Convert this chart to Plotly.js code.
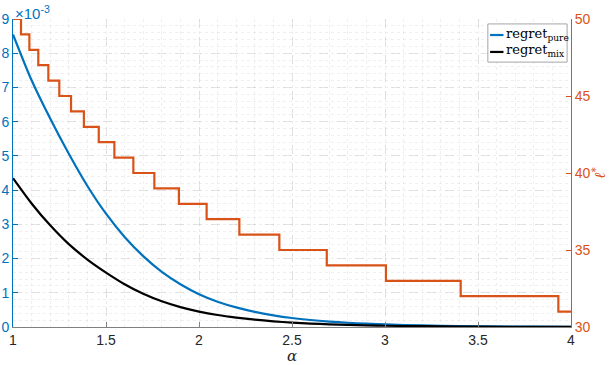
<!DOCTYPE html>
<html><head><meta charset="utf-8">
<script src="https://cdn.plot.ly/plotly-3.0.1.min.js"></script>
<style>html,body{margin:0;padding:0;background:#fff}#chart{width:609px;height:365px}</style>
</head><body><div id="chart"></div>
<script>
// alpha sample points
const alpha = [1.0,1.1,1.2,1.3,1.4,1.5,1.6,1.7,1.8,1.9,2.0,2.1,2.2,2.3,2.4,2.5,2.6,2.7,2.8,2.9,3.0,3.2,3.4,3.6,3.8,4.0];
// regret values in units of 1e-3
const regretPure = [8.55,7.21,6.09,5.06,4.12,3.31,2.63,2.07,1.61,1.25,0.96,0.74,0.572,0.441,0.340,0.262,0.204,0.159,0.124,0.096,0.075,0.046,0.028,0.017,0.010,0.006];
const regretMix  = [4.35,3.61,2.97,2.42,1.97,1.59,1.25,0.97,0.75,0.58,0.45,0.35,0.274,0.213,0.166,0.129,0.101,0.079,0.061,0.048,0.037,0.023,0.014,0.008,0.005,0.003];
// step function ell* : breakpoints and levels
const ellX = [1.0,1.043,1.088,1.136,1.190,1.249,1.312,1.381,1.461,1.545,1.647,1.760,1.892,2.041,2.217,2.432,2.687,3.005,3.407,3.932,4.0];
const ellY = [50,49,48,47,46,45,44,43,42,41,40,39,38,37,36,35,34,33,32,31,31];
const xTicks = [1,1.5,2,2.5,3,3.5,4];
const xTickText = ['1','1.5','2','2.5','3','3.5','4'];
const yTicks = [0,1,2,3,4,5,6,7,8,9];
const y2Ticks = [30,35,40,45,50];
const legendNames = ['regret<sub>pure</sub>','regret<sub>mix</sub>'];

const BLUE = '#0072BD', ORANGE = '#D95319';
const tickFont = {family:'Liberation Sans, Arial, sans-serif', size:14};
const grid = 'rgba(200,200,200,0.45)';
const serif = 'DejaVu Serif, Liberation Serif, serif';

const traces = [
  {x: alpha, y: regretPure, type:'scatter', mode:'lines', line:{color:BLUE, width:2.2, shape:'spline', smoothing:0.8}, name:legendNames[0]},
  {x: alpha, y: regretMix, type:'scatter', mode:'lines', line:{color:'#000000', width:2.2, shape:'spline', smoothing:0.8}, name:legendNames[1]},
  {x: ellX, y: ellY, type:'scatter', mode:'lines', line:{color:ORANGE, width:2.2, shape:'hv'}, yaxis:'y2'}
];

// legend box geometry (paper coords)
const lgX0 = 0.851, lgX1 = 0.993, lgY0 = 0.860, lgY1 = 0.984;
const lgRows = [0.948, 0.893];
const lgColors = [BLUE, '#000000'];
const shapes = [{type:'rect', xref:'paper', yref:'paper', x0:lgX0, x1:lgX1, y0:lgY0, y1:lgY1, line:{color:'#a6a6a6', width:1}, fillcolor:'#fff', layer:'above'}];
const annotations = [
  {xref:'paper', yref:'paper', x:0.0, y:1.0, xanchor:'left', yanchor:'bottom', showarrow:false,
   text:'×10<sup>-3</sup>', font:{family:'Liberation Sans, Arial, sans-serif', size:15, color:BLUE}, xshift:0, yshift:-5},
  {xref:'paper', yref:'paper', x:0.5, y:-0.094, xanchor:'center', yanchor:'middle', showarrow:false,
   text:'<i>α</i>', font:{family:serif, size:15, color:'#262626'}}
];
lgRows.forEach((yy,i)=>{
  shapes.push({type:'line', xref:'paper', yref:'paper', x0:0.855, x1:0.879, y0:yy, y1:yy, line:{color:lgColors[i], width:2.2}, layer:'above'});
  annotations.push({xref:'paper', yref:'paper', x:0.880, y:yy, xanchor:'left', yanchor:'middle', showarrow:false,
     text:legendNames[i], font:{family:serif, size:13, color:'#000'}, yshift:1});
});

const layout = {
  width:609, height:365,
  margin:{l:13, r:38, t:19, b:38},
  paper_bgcolor:'#fff', plot_bgcolor:'#fff',
  showlegend:false,
  xaxis:{range:[1,4], tickvals:xTicks, ticktext:xTickText, ticks:'inside', ticklen:5, tickcolor:'#808080',
         showline:true, linecolor:'#808080', linewidth:1, zeroline:false, mirror:false,
         showgrid:true, gridcolor:grid, griddash:'dash', gridwidth:1,
         minor:{dtick:0.1, showgrid:true, gridcolor:'rgba(210,210,210,0.35)', griddash:'dot', ticks:''},
         tickfont:Object.assign({color:'#262626'}, tickFont), automargin:false},
  yaxis:{range:[0,9], tickvals:yTicks, ticks:'inside', ticklen:5, tickcolor:BLUE,
         showline:true, linecolor:BLUE, linewidth:1, zeroline:false,
         showgrid:true, gridcolor:grid, griddash:'dash', gridwidth:1,
         minor:{dtick:0.2, showgrid:true, gridcolor:'rgba(210,210,210,0.35)', griddash:'dot', ticks:''},
         tickfont:Object.assign({color:BLUE}, tickFont)},
  yaxis2:{range:[30,50], overlaying:'y', side:'right', tickvals:y2Ticks, ticks:'inside', ticklen:5, tickcolor:ORANGE,
          showline:true, linecolor:ORANGE, linewidth:1, zeroline:false, showgrid:false,
          tickfont:Object.assign({color:ORANGE}, tickFont),
          title:{text:'<i>ℓ</i><sup>*</sup>', font:{family:serif, size:15, color:ORANGE}, standoff:6}},
  shapes: shapes,
  annotations: annotations
};

Plotly.newPlot('chart', traces, layout, {displayModeBar:false, staticPlot:true});
</script></body></html>
